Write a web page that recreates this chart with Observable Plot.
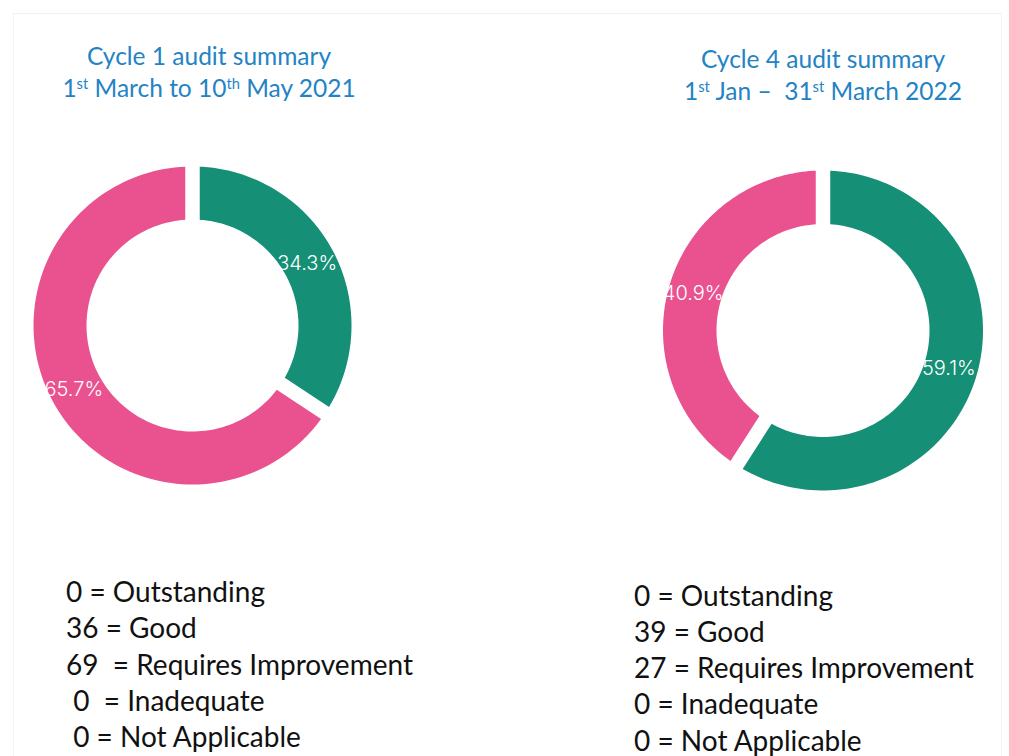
<!DOCTYPE html>
<html>
<head>
<meta charset="utf-8">
<script src="https://cdn.jsdelivr.net/npm/d3@7"></script>
<script src="https://cdn.jsdelivr.net/npm/@observablehq/plot@0.6"></script>
<style>
  html, body { margin: 0; padding: 0; background: #ffffff; }
  #page { position: relative; width: 1009px; height: 756px; overflow: hidden; background: #fff; }
  #chart { position: absolute; left: 0; top: 0; }
  .frame { position: absolute; left: 13px; top: 13px; width: 987px; height: 760px;
           border-top: 1px solid #f1f1f1; border-left: 1px solid #f3f3f3; border-right: 1px solid #f5f5f5; }
  .title { position: absolute; width: 460px; text-align: center; color: #2383c4;
           font-family: Lato, "Open Sans", sans-serif; font-size: 24.5px; line-height: 32px; white-space: pre; }
  .title sup { font-size: 0.6em; vertical-align: 0.55em; line-height: 0; }
  .legend { position: absolute; color: #111; font-family: Lato, "Open Sans", sans-serif;
            font-size: 28px; line-height: 36.3px; white-space: pre; }
</style>
</head>
<body>
<div id="page">
  <div class="frame"></div>
  <div id="chart"></div>
</div>
<script>
// ---- data ----
const categories = ["Outstanding", "Good", "Requires Improvement", "Inadequate", "Not Applicable"];
const categoryColors = ["#5b8fd6", "#158f76", "#e9528f", "#f0a030", "#999999"];
const cycle1Counts = [0, 36, 69, 0, 0];
const cycle4Counts = [0, 39, 27, 0, 0];
const cycle1TitleLines = ["Cycle 1 audit summary", "1<sup>st</sup> March to 10<sup>th</sup> May 2021"];
const cycle4TitleLines = ["Cycle 4 audit summary", "1<sup>st</sup> Jan –  31<sup>st</sup> March 2022"];
const cycle1LegendLines = ["0 = Outstanding", "36 = Good", "69  = Requires Improvement", " 0  = Inadequate", " 0 = Not Applicable"];
const cycle4LegendLines = ["0 = Outstanding", "39 = Good", "27 = Requires Improvement", "0 = Inadequate", "0 = Not Applicable"];

// ---- layout (not data) ----
const W = 1009, H = 756;
const donuts = [
  {counts: cycle1Counts, cx: 192, cy: 325, R: 159, r: 106, titleLines: cycle1TitleLines, titleX: 209, titleTop: 40, legend: cycle1LegendLines, legendX: 66, legendTop: 573},
  {counts: cycle4Counts, cx: 822.5, cy: 330, R: 160, r: 106.5, titleLines: cycle4TitleLines, titleX: 823, titleTop: 42.5, legend: cycle4LegendLines, legendX: 634, legendTop: 576.5}
];
const GAP = 14.5;
const N = 120;

const slicePoints = [];
const labels = [];
donuts.forEach((d, di) => {
  const total = d3.sum(d.counts);
  let acc = 0;
  d.counts.forEach((v, ci) => {
    if (!v) return;
    const a0 = acc / total * 2 * Math.PI;
    acc += v;
    const a1 = acc / total * 2 * Math.PI;
    const key = di + "-" + ci;
    const dO = Math.asin(GAP / 2 / d.R), dI = Math.asin(GAP / 2 / d.r);
    for (let i = 0; i <= N; i++) {
      const a = a0 + dO + (a1 - a0 - 2 * dO) * i / N;
      slicePoints.push({key, category: categories[ci], x: d.cx + d.R * Math.sin(a), y: d.cy - d.R * Math.cos(a)});
    }
    for (let i = N; i >= 0; i--) {
      const a = a0 + dI + (a1 - a0 - 2 * dI) * i / N;
      slicePoints.push({key, category: categories[ci], x: d.cx + d.r * Math.sin(a), y: d.cy - d.r * Math.cos(a)});
    }
    const am = (a0 + a1) / 2, rm = (d.R + d.r) / 2;
    labels.push({x: d.cx + rm * Math.sin(am), y: d.cy - rm * Math.cos(am), text: d3.format(".1%")(v / total)});
  });
});

const chart = Plot.plot({
  width: W,
  height: H,
  margin: 0,
  style: {background: "transparent"},
  x: {domain: [0, W], range: [0, W], axis: null},
  y: {domain: [0, H], range: [0, H], axis: null},
  color: {domain: categories, range: categoryColors},
  marks: [
    Plot.line(slicePoints, {x: "x", y: "y", z: "key", fill: "category", stroke: "none", curve: "linear-closed"}),
    Plot.text(labels, {x: "x", y: "y", text: "text", fill: "white", fontSize: 20, fontWeight: 300,
      fontFamily: "Inter, Lato, 'Open Sans', sans-serif", textAnchor: "middle", dx: -2, dy: 1})
  ]
});
document.getElementById("chart").appendChild(chart);

const page = document.getElementById("page");
donuts.forEach(d => {
  const t = document.createElement("div");
  t.className = "title";
  t.style.left = (d.titleX - 230) + "px";
  t.style.top = d.titleTop + "px";
  t.innerHTML = d.titleLines.join("<br>");
  page.appendChild(t);
  const l = document.createElement("div");
  l.className = "legend";
  l.style.left = d.legendX + "px";
  l.style.top = d.legendTop + "px";
  l.textContent = d.legend.join("\n");
  page.appendChild(l);
});
</script>
</body>
</html>
